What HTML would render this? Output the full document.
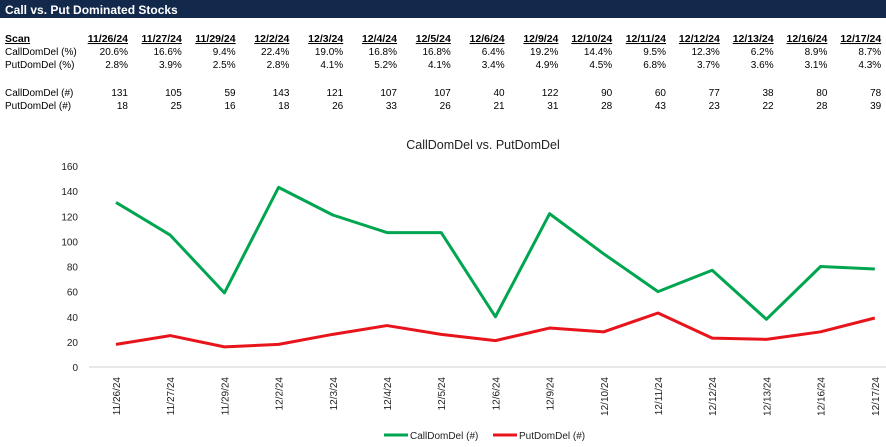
<!DOCTYPE html>
<html><head><meta charset="utf-8"><style>
body{margin:0;background:#fff;width:886px;height:447px;overflow:hidden;font-family:"Liberation Sans",sans-serif}
svg{display:block}
</style></head><body>
<svg id="s" width="886" height="447">
<rect x="0" y="0" width="886" height="18" fill="#13294b"/>
<text x="5" y="14" font-size="12" font-weight="bold" fill="#fff">Call vs. Put Dominated Stocks</text>
<g id="tbl"></g>
<text x="483" y="149" font-size="12.5" fill="#222" text-anchor="middle">CallDomDel vs. PutDomDel</text>
<g id="chart"></g>
<g>
<line x1="384" y1="435" x2="408" y2="435" stroke="#00a550" stroke-width="3"/>
<text x="410" y="439" font-size="10" fill="#222">CallDomDel (#)</text>
<line x1="493" y1="435" x2="517" y2="435" stroke="#e8141b" stroke-width="3"/>
<text x="519" y="439" font-size="10" fill="#222">PutDomDel (#)</text>
</g>
</svg>
<script>
const dates=["11/26/24","11/27/24","11/29/24","12/2/24","12/3/24","12/4/24","12/5/24","12/6/24","12/9/24","12/10/24","12/11/24","12/12/24","12/13/24","12/16/24","12/17/24"];
const axisDates=["11/26/24","11/27/24","11/29/24","12/2/24","12/3/24","12/4/24","12/5/24","12/6/24","12/9/24","12/10/24","12/11/24","12/12/24","12/13/24","12/16/24","12/17/24"];
const callPct=["20.6%","16.6%","9.4%","22.4%","19.0%","16.8%","16.8%","6.4%","19.2%","14.4%","9.5%","12.3%","6.2%","8.9%","8.7%"];
const putPct=["2.8%","3.9%","2.5%","2.8%","4.1%","5.2%","4.1%","3.4%","4.9%","4.5%","6.8%","3.7%","3.6%","3.1%","4.3%"];
const callNum=[131,105,59,143,121,107,107,40,122,90,60,77,38,80,78];
const putNum=[18,25,16,18,26,33,26,21,31,28,43,23,22,28,39];
const yTicks=[0,20,40,60,80,100,120,140,160];
const NS="http://www.w3.org/2000/svg";
function mk(tag,attrs,parent,txt){const e=document.createElementNS(NS,tag);for(const k in attrs)e.setAttribute(k,attrs[k]);if(txt!==undefined)e.textContent=txt;parent.appendChild(e);return e;}
const tbl=document.getElementById('tbl');
const colR=i=>128+i*53.8;
const rowsY=[42,55,68,96,109];
let t=mk('text',{x:5,y:rowsY[0],'font-size':10.5,'font-weight':'bold','text-decoration':'underline',fill:'#000'},tbl,'Scan');


const labels=["CallDomDel (%)","PutDomDel (%)","CallDomDel (#)","PutDomDel (#)"];
const rows=[callPct,putPct,callNum,putNum];
labels.forEach((l,r)=>{const e=mk('text',{x:5,y:rowsY[r+1],'font-size':10,fill:'#000'},tbl,l);

});
dates.forEach((d,i)=>{const e=mk('text',{x:colR(i),y:rowsY[0],'font-size':10.5,'font-weight':'bold','text-decoration':'underline','text-anchor':'end',fill:'#000'},tbl,d);


rows.forEach((row,r)=>{const c=mk('text',{x:colR(i),y:rowsY[r+1],'font-size':10,'text-anchor':'end',fill:'#000'},tbl,String(row[i]));

});});
// chart
const ch=document.getElementById('chart');
const X=i=>116+i*54.2, Y=v=>367-v*(201/160);
yTicks.forEach(v=>{const e=mk('text',{x:78,y:Y(v)+4,'font-size':10,'text-anchor':'end',fill:'#222'},ch,String(v));

});
const ax=mk('line',{x1:89,y1:Y(0),x2:886,y2:Y(0),stroke:'#d0d0d0','stroke-width':1},ch);


axisDates.forEach((d,i)=>{const e=mk('text',{transform:`translate(${X(i)+4},${Y(0)+10}) rotate(-90)`,'font-size':10,'text-anchor':'end',fill:'#222'},ch,d);

});
function line(vals,color,name){const p=mk('polyline',{points:vals.map((v,i)=>X(i)+','+Y(v)).join(' '),fill:'none',stroke:color,'stroke-width':3,'stroke-linejoin':'round'},ch);

}
line(callNum,'#00a550','call-dom-del-line');
line(putNum,'#e8141b','put-dom-del-line');
</script>
</body></html>
